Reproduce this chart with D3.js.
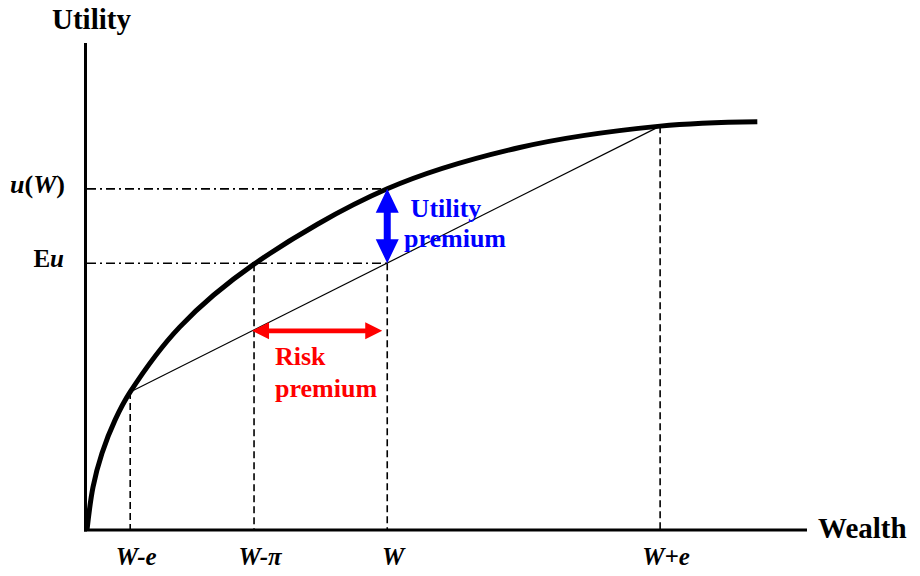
<!DOCTYPE html>
<html>
<head>
<meta charset="utf-8">
<script src="https://cdn.jsdelivr.net/npm/d3@7"></script>
<style>
body { margin: 0; background: #fff; }
text { font-family: "Liberation Serif", "Times New Roman", serif; font-weight: bold; }
</style>
</head>
<body>
<svg id="chart" width="920" height="576"></svg>
<script>
// utility curve (wealth, utility) on 0-100 scales
var curveWealth = [0, 0.83, 2.08, 3.89, 6.0, 12.9, 23.2, 41.7, 60.1, 79.6, 93.1]
var curveUtility = [0, 8.8, 15.8, 22.6, 28.4, 41.8, 54.7, 70.2, 78.7, 83.1, 84.0]

// key wealth levels and their labels
var wealthKeys = [6.0, 23.2, 41.7, 79.6]
var wealthLabels = ["W-e", "W-\u03c0", "W", "W+e"]
var utilityKeys = [54.9, 70.2]   // Eu, u(W)

var svg = d3.select("#chart")

var x = d3.scaleLinear().domain([0, 100]).range([87, 807])
var y = d3.scaleLinear().domain([0, 100]).range([530, 44])

var pts = curveWealth.map(function(d, i) { return [d, curveUtility[i]] })
var uLow = curveUtility[curveWealth.indexOf(wealthKeys[0])]
var uHigh = curveUtility[curveWealth.indexOf(wealthKeys[3])]
function chord(w) {
    return uLow + (w - wealthKeys[0]) / (wealthKeys[3] - wealthKeys[0]) * (uHigh - uLow)
}
var Eu = utilityKeys[0], uW = utilityKeys[1]
var uPi = curveUtility[curveWealth.indexOf(wealthKeys[1])]

// dashed verticals
var vTops = [uLow, uPi, Eu, uHigh]
svg.append('g').selectAll('line')
    .data(wealthKeys)
    .enter()
    .append('line')
    .attr('x1', function(d) { return x(d) })
    .attr('x2', function(d) { return x(d) })
    .attr('y1', function(d, i) { return y(vTops[i]) })
    .attr('y2', y(0))
    .attr('stroke', 'black')
    .attr('stroke-width', 1.6)
    .attr('stroke-dasharray', '7,4')

// dash-dot horizontals
svg.append('g').selectAll('line')
    .data(utilityKeys)
    .enter()
    .append('line')
    .attr('x1', x(0))
    .attr('x2', x(wealthKeys[2]))
    .attr('y1', function(d) { return y(d) })
    .attr('y2', function(d) { return y(d) })
    .attr('stroke', 'black')
    .attr('stroke-width', 1.6)
    .attr('stroke-dasharray', '9,4,2,4')

// chord
svg.append('line')
    .attr('x1', x(wealthKeys[0])).attr('y1', y(uLow))
    .attr('x2', x(wealthKeys[3])).attr('y2', y(uHigh))
    .attr('stroke', 'black')
    .attr('stroke-width', 1.2)

// utility curve
svg.append('path')
    .datum(pts)
    .attr('d', d3.line()
          .x(function(d) { return x(d[0]) })
          .y(function(d) { return y(d[1]) })
          .curve(d3.curveCatmullRom.alpha(0.5)))
    .attr('fill', 'none')
    .attr('stroke', 'black')
    .attr('stroke-width', 5)

// axes
svg.append('line')
    .attr('x1', x(0) - 1.5).attr('x2', x(0) - 1.5)
    .attr('y1', y(100) - 1).attr('y2', y(0) + 1.5)
    .attr('stroke', 'black').attr('stroke-width', 3)
svg.append('line')
    .attr('x1', x(0) - 3).attr('x2', x(100))
    .attr('y1', y(0)).attr('y2', y(0))
    .attr('stroke', 'black').attr('stroke-width', 3)

svg.append('text').attr('x', 52).attr('y', 29)
    .attr('font-size', 29).text('Utility')
svg.append('text').attr('x', 818).attr('y', 538)
    .attr('font-size', 29).text('Wealth')

// wealth labels
svg.append('g').selectAll('text')
    .data(wealthLabels)
    .enter()
    .append('text')
    .attr('x', function(d, i) { return x(wealthKeys[i]) + 6 })
    .attr('y', 565)
    .attr('text-anchor', 'middle')
    .attr('font-size', 25)
    .attr('font-style', 'italic')
    .text(function(d) { return d })

// utility labels
var eu = svg.append('text').attr('x', 64).attr('y', y(Eu) + 4)
    .attr('text-anchor', 'end').attr('font-size', 25)
eu.append('tspan').text('E')
eu.append('tspan').attr('font-style', 'italic').text('u')

var uw = svg.append('text').attr('x', 65).attr('y', y(uW) + 4)
    .attr('text-anchor', 'end').attr('font-size', 26)
uw.append('tspan').attr('font-style', 'italic').text('u')
uw.append('tspan').text('(')
uw.append('tspan').attr('font-style', 'italic').text('W')
uw.append('tspan').text(')')

// blue double arrow (utility premium)
var bx = x(wealthKeys[2]), bTop = y(uW), bBot = y(Eu)
var hw = 11.5, hl = 24, sw = 3.5
svg.append('path')
    .attr('d', d3.line()([
        [bx, bTop], [bx + hw, bTop + hl], [bx + sw, bTop + hl],
        [bx + sw, bBot - hl], [bx + hw, bBot - hl], [bx, bBot],
        [bx - hw, bBot - hl], [bx - sw, bBot - hl], [bx - sw, bTop + hl],
        [bx - hw, bTop + hl]]) + 'Z')
    .attr('fill', '#0000ff')

// red double arrow (risk premium)
var ry = y(chord(wealthKeys[1])) + 1
var rL = x(wealthKeys[1]) - 2, rR = x(wealthKeys[2]) - 5
var rhw = 8.5, rhl = 17, rsw = 2.3
svg.append('path')
    .attr('d', d3.line()([
        [rL, ry], [rL + rhl, ry - rhw], [rL + rhl, ry - rsw],
        [rR - rhl, ry - rsw], [rR - rhl, ry - rhw], [rR, ry],
        [rR - rhl, ry + rhw], [rR - rhl, ry + rsw], [rL + rhl, ry + rsw],
        [rL + rhl, ry + rhw]]) + 'Z')
    .attr('fill', '#ff0000')

svg.append('text').attr('x', 446).attr('y', 217)
    .attr('text-anchor', 'middle').attr('font-size', 26)
    .attr('fill', '#0000ff').text('Utility')
svg.append('text').attr('x', 455).attr('y', 247)
    .attr('text-anchor', 'middle').attr('font-size', 26)
    .attr('fill', '#0000ff').text('premium')

svg.append('text').attr('x', 275).attr('y', 365)
    .attr('font-size', 26).attr('fill', '#ff0000').text('Risk')
svg.append('text').attr('x', 275).attr('y', 397)
    .attr('font-size', 26).attr('fill', '#ff0000').text('premium')
</script>
</body>
</html>
